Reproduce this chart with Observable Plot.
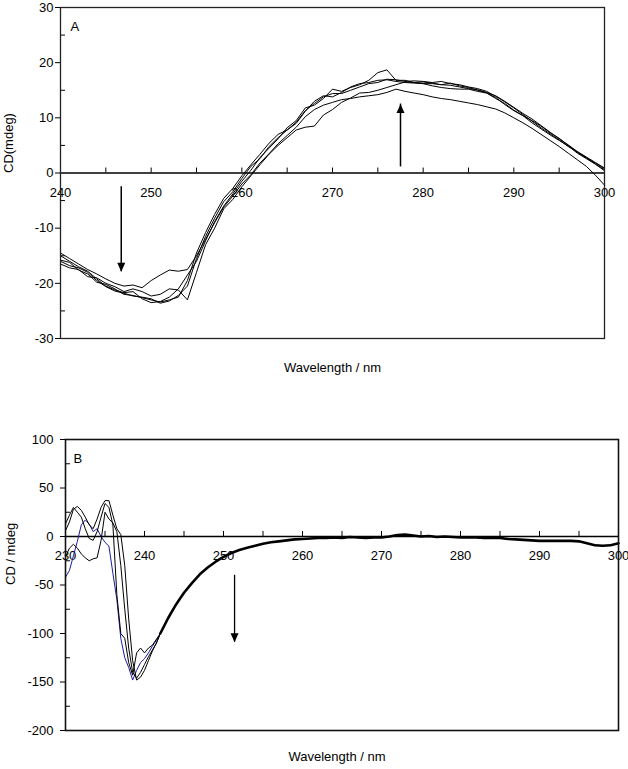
<!DOCTYPE html>
<html>
<head>
<meta charset="utf-8">
<script src="https://cdn.jsdelivr.net/npm/d3@7"></script>
<script src="https://cdn.jsdelivr.net/npm/@observablehq/plot@0.6"></script>
<style>
  body { margin: 0; background: #fff; }
  #chart svg { display: block; }
</style>
</head>
<body>
<div id="chart"></div>
<script>
// ---------- Panel A data (wavelength 240..300 nm, 1 nm steps) ----------
const waveA = d3.range(240, 301);
const a1 = [-14.5,-15.5,-16.5,-17.5,-18.3,-19.2,-20,-20.5,-20.3,-20.8,
  -19.5,-18.5,-17.6,-17.8,-17.5,-15,-12,-9,-6.2,-4.2,
  -2,-0.3,1.8,3.5,5.3,6.8,8.3,10.2,11.5,12.3,
  12.8,13.3,13.5,13.8,14,14.2,14.6,15.2,14.8,14.5,
  14.2,13.8,13.5,13.3,13,12.7,12.4,12,11.6,10.9,
  10,9.1,8.1,7,5.9,4.8,3.6,2.4,1.2,-0.4,
  -2.2];
const a2 = [-16.5,-17.2,-17.5,-18.8,-19,-20,-20.6,-21.5,-21,-21.5,
  -22.3,-22,-21,-21.2,-23,-18,-13,-10,-6.5,-4.8,
  -2.5,-0.5,1.5,3.4,5,6.4,7.8,8.3,8.5,10.5,
  11.5,12.8,13.6,14.5,14.6,15,15.5,16,16.5,16.4,
  16.2,15.8,15.5,15.3,15.2,15.2,14.8,14.5,13.5,12.6,
  11.4,10.4,9.5,8.5,7.3,6.3,5,3.8,2.8,1.6,
  0.4];
const a3 = [-15,-16,-17,-17.8,-19.2,-20.5,-21.2,-21.7,-21.5,-22.8,
  -23.5,-23.3,-22.5,-21,-18.5,-16,-12.3,-8.8,-6,-3.8,
  -1.5,0.5,2.8,4.5,6.2,8.2,9.5,11.8,12.3,13.5,
  15.2,14.8,15.5,16,16.8,18.2,18.7,16.8,16.8,16.4,
  16.5,16.3,16,16.3,15.8,15.5,15,14.5,13.7,12.4,
  11.3,10.4,9.1,8,6.9,5.9,4.9,3.6,2.6,1.6,
  0.6];
const a4 = [-16,-16.8,-17.2,-18,-19.5,-20.6,-21.4,-21.8,-22.3,-22.5,
  -22.8,-23.6,-23.2,-22.2,-20.5,-15.5,-11.5,-8.2,-5.2,-3.4,
  -1,1.2,2.6,4.8,6.4,7.8,9.2,11.3,12.6,13.8,
  14.4,14.4,15,15.6,16.2,16.4,17,16.9,16.6,16.7,
  16.6,16.4,16.6,16.2,16,15.6,15.3,14.8,13.9,12.9,
  11.8,10.6,9.4,8.2,7.1,6,4.8,3.8,2.7,1.8,
  0.8];
const a5 = [-15.8,-16.2,-17.6,-18.3,-19.8,-20.2,-21,-22,-22.2,-22.6,
  -23,-23.4,-23,-22.5,-19.5,-14.5,-10.8,-7.5,-4.6,-2.8,
  -0.5,1.5,3.4,5.4,7,7.8,9,11.2,13,14,
  13.8,14.6,15.6,16.2,16.4,16.8,16.9,16.6,16.4,16.3,
  16.2,16.2,16,15.9,15.6,15.3,15.1,14.6,14,13,
  11.9,10.8,9.8,8.6,7.4,6.2,5.1,3.9,2.9,1.9,
  0.9];
const xTicksA = [240, 250, 260, 270, 280, 290, 300];
const xMinorA = [245, 255, 265, 275, 285, 295];
const yTicksA = [-30, -20, -10, 0, 10, 20, 30];
const yMinorA = [-25, -15, -5, 5, 15, 25];
const arrowsDownA = [{x: 246.7, from: -2.5, to: -17.9}];
const arrowsUpA = [{x: 277.5, from: 1.1, to: 12.5}];

// ---------- Panel B data ----------
const headWaveB = [230,230.5,231,231.5,232,232.5,233,233.5,234,234.5,235,235.5,236,236.5,237,237.5,238,238.5,239,239.5,240,240.5,241,241.5,242,242.5,243,243.5,244,244.5,245];
const bBlue = [-42,-35,-20,-5,12,17,13,5,8,0,-6,-10,-38,-65,-105,-125,-135,-148,-138,-130,-126,-120,-113,-107,-100,-92,-84,-77,-70,-64,-58];
const bK1 = [6,15,28,31,27,20,12,8,18,30,37,37,22,8,2,-30,-85,-128,-148,-145,-138,-128,-118,-110,-100,-92,-84,-77,-70,-64,-58];
const bK2 = [-21,-12,-8,-12,-18,-22,-25,-23,-22,-4,25,18,14,5,-30,-75,-115,-140,-146,-140,-132,-124,-117,-110,-100,-92,-84,-77,-70,-64,-58];
const bK3 = [13,22,30,25,20,8,-2,-4,5,20,34,30,12,-60,-100,-105,-130,-143,-120,-115,-120,-115,-112,-106,-100,-92,-84,-77,-70,-64,-58];
const tailWaveB = d3.range(246, 301);
const tailB = [-48,-39,-32,-26,-21,-17,-14,-11.5,-9.5,-7.5,
  -6,-5,-4,-3,-2.5,-2,-1.5,-1.5,-1,-1.5,
  -0.5,-1,-1.5,-1,-1,0,1.5,2,1,0,
  0.5,-0.5,0,-0.5,-1,-1,-1,-1.5,-1.5,-1.5,
  -2.5,-3,-3.5,-4,-4.5,-4.5,-4.5,-4.5,-4.5,-5,
  -7,-9,-9.5,-9,-7];
const xTicksB = [230, 240, 250, 260, 270, 280, 290, 300];
const xMinorB = [235, 245, 255, 265, 275, 285, 295];
const yTicksB = [-200, -150, -100, -50, 0, 50, 100];
const yMinorB = [-175, -125, -75, -25, 25, 75];
const arrowsDownB = [{x: 251.4, from: -40, to: -109}];

// ---------- build tables ----------
const seriesA = [a1, a2, a3, a4, a5];
const dataA = seriesA.flatMap((vals, i) => waveA.map((x, j) => ({x, y: vals[j], s: "A" + i})));
const tailRows = tailWaveB.map((x, j) => ({x, y: tailB[j]}));
const mkB = (vals, name) => headWaveB.map((x, j) => ({x, y: vals[j], s: name})).concat(tailRows.map(d => ({...d, s: name})));
const dataBlue = mkB(bBlue, "blue");
const dataBlack = [...mkB(bK1, "k1"), ...mkB(bK2, "k2"), ...mkB(bK3, "k3")];
const commonB = mkB(bK1, "c").filter(d => d.x >= 242);

const headDown = {draw(ctx) { ctx.moveTo(0, 0); ctx.lineTo(-4, -9); ctx.lineTo(4, -9); ctx.closePath(); }};
const headUp = {draw(ctx) { ctx.moveTo(0, 0); ctx.lineTo(-4, 9); ctx.lineTo(4, 9); ctx.closePath(); }};

const font = "'Liberation Sans', Arial, Helvetica, sans-serif";
const style = {fontFamily: font, fontSize: "13px", color: "#000", background: "#fff", overflow: "visible"};

const plotA = Plot.plot({
  width: 628, height: 386,
  marginLeft: 60, marginRight: 24, marginTop: 7, marginBottom: 48,
  style,
  x: {domain: [240, 300], axis: null},
  y: {domain: [-30, 30], ticks: yTicksA, tickSize: 5, tickPadding: 2, tickFormat: d => String(d), label: null},
  marks: [
    Plot.ruleY(yMinorA, {y: d => d, x1: 240, x2: 240.55, stroke: "#000"}),
    Plot.ruleX(xTicksA.concat(xMinorA), {x: d => d, y1: 0, y2: 0.9, stroke: "#000"}),
    Plot.ruleY([0], {stroke: "#000", strokeWidth: 1.3}),
    Plot.text(xTicksA, {x: d => d, y: 0, dy: 20, text: d => String(d), fill: "#000"}),
    Plot.line(dataA, {x: "x", y: "y", z: "s", stroke: "#000", strokeWidth: 1}),
    Plot.ruleX(arrowsDownA.concat(arrowsUpA), {x: "x", y1: "from", y2: "to", stroke: "#000", strokeWidth: 1.5}),
    Plot.dot(arrowsDownA, {x: "x", y: "to", symbol: headDown, fill: "#000", stroke: "none"}),
    Plot.dot(arrowsUpA, {x: "x", y: "to", symbol: headUp, fill: "#000", stroke: "none"}),
    Plot.frame({stroke: "#222", strokeWidth: 1.3}),
    Plot.text(["A"], {frameAnchor: "top-left", dx: 10, dy: 14, textAnchor: "start", text: d => d, fill: "#000"}),
    Plot.text(["Wavelength / nm"], {frameAnchor: "bottom", dy: 33, text: d => d, fill: "#000"}),
    Plot.text(["CD(mdeg)"], {frameAnchor: "left", dx: -52, rotate: -90, text: d => d, fill: "#000"})
  ]
});

const plotB = Plot.plot({
  width: 628, height: 383,
  marginLeft: 65, marginRight: 10, marginTop: 53, marginBottom: 39,
  style,
  x: {domain: [230, 300], axis: null},
  y: {domain: [-200, 100], ticks: yTicksB, tickSize: 5, tickPadding: 7, tickFormat: d => String(d), label: null},
  marks: [
    Plot.ruleY(yMinorB, {y: d => d, x1: 230, x2: 230.63, stroke: "#000"}),
    Plot.ruleX(xTicksB.concat(xMinorB), {x: d => d, y1: 0, y2: 5.2, stroke: "#000"}),
    Plot.ruleY([0], {stroke: "#000", strokeWidth: 1.3}),
    Plot.text(xTicksB, {x: d => d, y: 0, dy: 19, text: d => String(d), fill: "#000"}),
    Plot.line(dataBlue, {x: "x", y: "y", stroke: "#1c1c9e", strokeWidth: 1}),
    Plot.line(dataBlack, {x: "x", y: "y", z: "s", stroke: "#000", strokeWidth: 1}),
    Plot.line(commonB, {x: "x", y: "y", stroke: "#000", strokeWidth: 2.6}),
    Plot.ruleX(arrowsDownB, {x: "x", y1: "from", y2: "to", stroke: "#000", strokeWidth: 1.3}),
    Plot.dot(arrowsDownB, {x: "x", y: "to", symbol: headDown, fill: "#000", stroke: "none"}),
    Plot.frame({stroke: "#111", strokeWidth: 1.6}),
    Plot.text(["B"], {frameAnchor: "top-left", dx: 8, dy: 14, textAnchor: "start", text: d => d, fill: "#000"}),
    Plot.text(["Wavelength / nm"], {frameAnchor: "bottom", dy: 30, dx: -5, text: d => d, fill: "#000"}),
    Plot.text(["CD / mdeg"], {frameAnchor: "left", dx: -55, rotate: -90, text: d => d, fill: "#000"})
  ]
});

const chart = document.getElementById("chart");
chart.appendChild(plotA);
chart.appendChild(plotB);
</script>
</body>
</html>
